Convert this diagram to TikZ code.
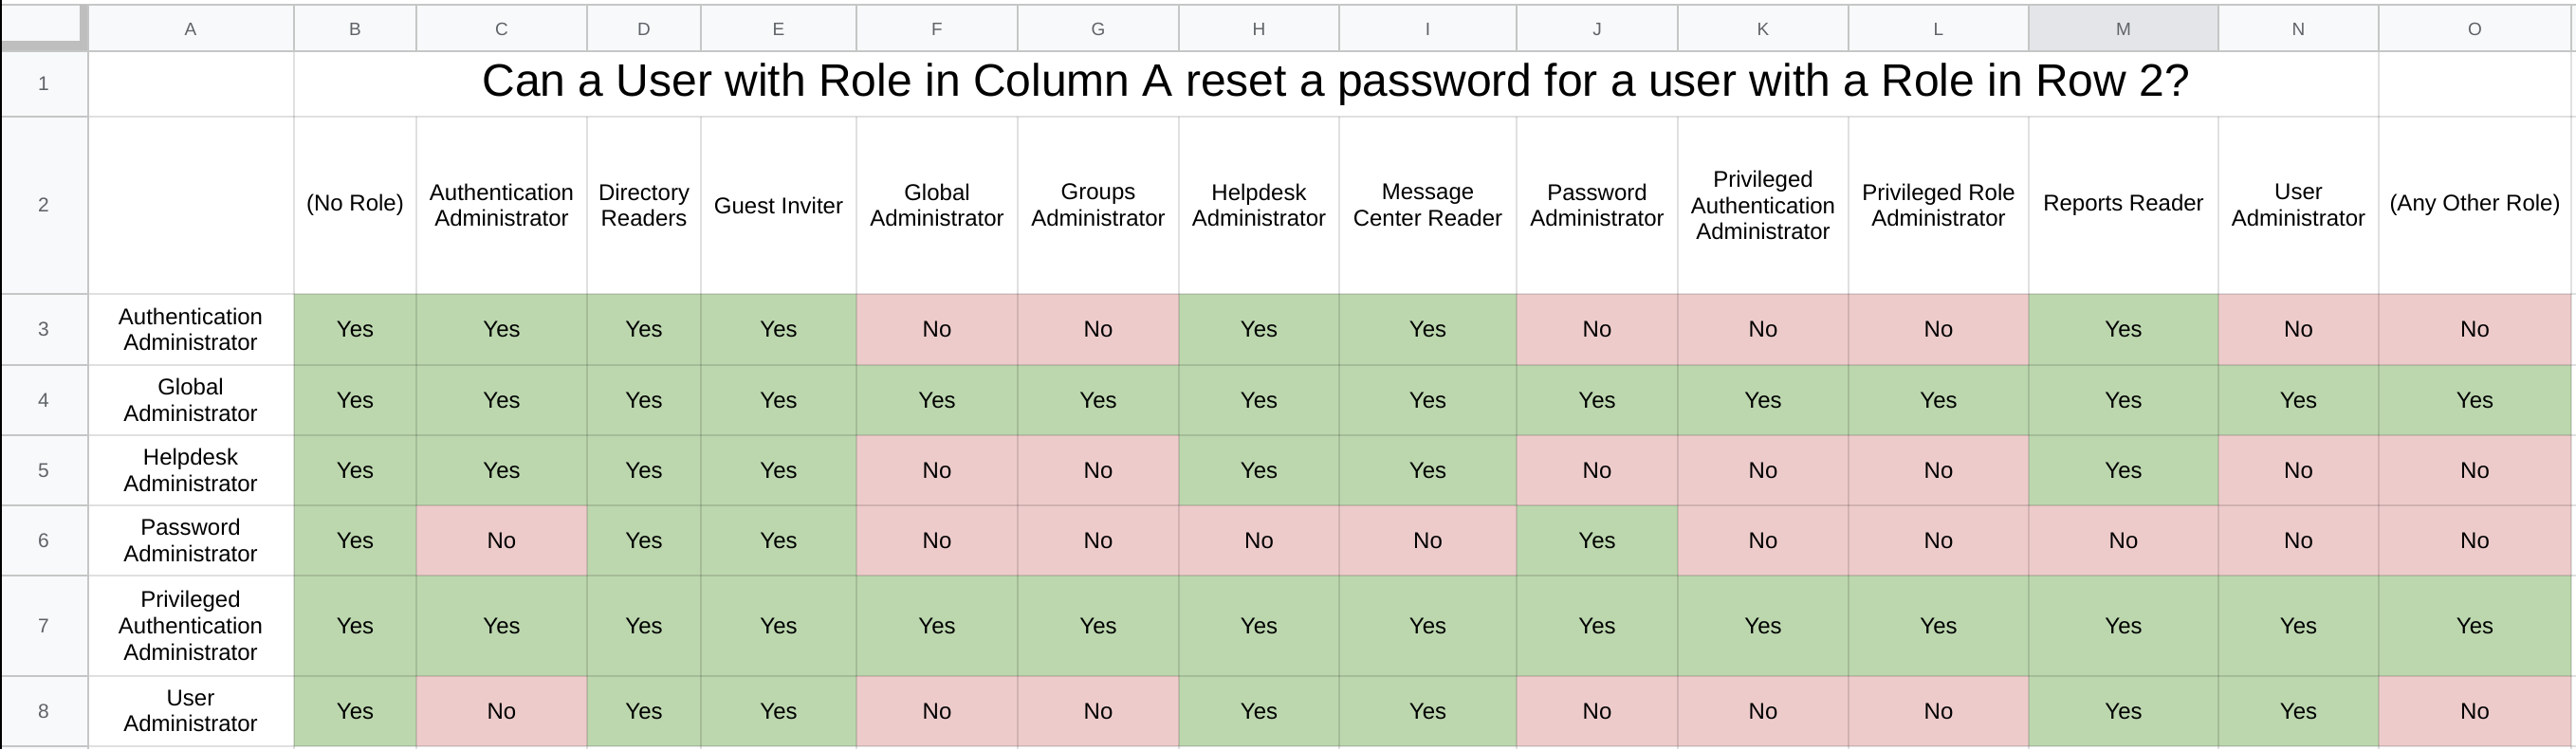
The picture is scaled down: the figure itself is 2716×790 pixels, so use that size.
\documentclass[tikz,border=0pt]{standalone}
\usepackage{fontspec}
\setmainfont{Liberation Sans}
\usetikzlibrary{positioning}

\definecolor{yescol}{RGB}{188,215,174}
\definecolor{nocol}{RGB}{238,203,203}
\definecolor{hdrbg}{RGB}{248,249,250}
\definecolor{selbg}{RGB}{227,229,232}
\definecolor{hdrline}{RGB}{196,199,197}
\definecolor{frzbar}{RGB}{190,190,190}
\definecolor{hdrtxt}{RGB}{95,99,104}

% column and row edges of the sheet
\def\colx{{92,310,439,619,739,903,1073,1243,1412,1599,1769,1949,2139,2339,2508,2711}}
\def\rowy{{5,54,123,310,385,459,533,607,713,787}}

\begin{document}
\begin{tikzpicture}[x=1pt, y=-1pt,
        cell/.style={inner sep=0pt, outer sep=0pt, align=center,
                        font=\fontsize{24}{27.6}\selectfont},
        Yes/.style={cell, fill=yescol},
        No/.style={cell, fill=nocol},
        hdr/.style={inner sep=0pt, text=hdrtxt,
                        font=\fontsize{19}{21}\selectfont},
        gridline/.style={draw=black, draw opacity=0.12, line width=2pt},
        hline/.style={draw=hdrline, line width=2pt}]
    \useasboundingbox (0,0) rectangle (2716,790);
    \fill[white] (0,0) rectangle (2716,790);
    % header strips
    \fill[hdrbg] (0,5) rectangle (2716,54);
    \fill[hdrbg] (0,5) rectangle (92,790);
    \fill[selbg] (2139,5) rectangle (2339,54);

    % answers
    \foreach \r/\vals in {
            3/{Yes,Yes,Yes,Yes,No,No,Yes,Yes,No,No,No,Yes,No,No},
            4/{Yes,Yes,Yes,Yes,Yes,Yes,Yes,Yes,Yes,Yes,Yes,Yes,Yes,Yes},
            5/{Yes,Yes,Yes,Yes,No,No,Yes,Yes,No,No,No,Yes,No,No},
            6/{Yes,No,Yes,Yes,No,No,No,No,Yes,No,No,No,No,No},
            7/{Yes,Yes,Yes,Yes,Yes,Yes,Yes,Yes,Yes,Yes,Yes,Yes,Yes,Yes},
            8/{Yes,No,Yes,Yes,No,No,Yes,Yes,No,No,No,Yes,Yes,No}}{
        \pgfmathsetmacro\ya{\rowy[\r]}
        \pgfmathsetmacro\yb{\rowy[\r+1]}
        \foreach \v [count=\i from 2] in \vals {
            \pgfmathsetmacro\xa{\colx[\i-1]}
            \pgfmathsetmacro\xb{\colx[\i]}
            \node[\v, minimum width=\xb-\xa, minimum height=\yb-\ya]
                (c\r-\i) at ({(\xa+\xb)/2},{(\ya+\yb)/2}) {\v};
        }
    }

    % grid
    \foreach \i in {1,14,15} {
        \pgfmathsetmacro\xa{\colx[\i]}
        \draw[gridline] (\xa,54) -- (\xa,790);
    }
    \foreach \i in {2,...,13} {
        \pgfmathsetmacro\xa{\colx[\i]}
        \draw[gridline] (\xa,123) -- (\xa,790);
    }
    \foreach \r in {2,...,9} {
        \pgfmathsetmacro\ya{\rowy[\r]}
        \draw[gridline] (92,\ya) -- (2716,\ya);
        \draw[hline] (0,\ya) -- (92,\ya);
    }
    \foreach \i in {1,...,15} {
        \pgfmathsetmacro\xa{\colx[\i]}
        \draw[hline] (\xa,5) -- (\xa,54);
    }
    \draw[hline] (0,5) -- (2716,5);
    \draw[hline] (0,54) -- (2716,54);
    \draw[hline] (92.5,5) -- (92.5,790);
    \fill[frzbar] (84,5) rectangle (92,53) (0,43) rectangle (92,53);
    \fill[black] (0,0) rectangle (1.5,790);

    % column letters and row numbers
    \foreach \l [count=\i] in {A,B,C,D,E,F,G,H,I,J,K,L,M,N,O} {
        \pgfmathsetmacro\xa{\colx[\i-1]}
        \pgfmathsetmacro\xb{\colx[\i]}
        \node[hdr] (col\l) at ({(\xa+\xb)/2},31) {\l};
    }
    \foreach \r in {1,...,8} {
        \pgfmathsetmacro\ya{\rowy[\r]}
        \pgfmathsetmacro\yb{\rowy[\r+1]}
        \node[hdr, font=\fontsize{21}{23}\selectfont] (row\r) at (46,{(\ya+\yb)/2}) {\r};
    }

    % title
    \node[inner sep=0pt, font=\fontsize{48}{55}\selectfont] (title) at (1409,89)
        {Can a User with Role in Column A reset a password for a user with a Role in Row 2?};

    % roles in row 2
    \foreach \i/\t in {2/(No Role), 3/Authentication\\Administrator,
            4/Directory\\Readers, 5/Guest Inviter, 6/Global\\Administrator,
            7/Groups\\Administrator, 8/Helpdesk\\Administrator,
            9/Message\\Center Reader, 10/Password\\Administrator,
            11/Privileged\\Authentication\\Administrator,
            12/Privileged Role\\Administrator, 13/Reports Reader,
            14/User\\Administrator, 15/(Any Other Role)} {
        \pgfmathsetmacro\xa{\colx[\i-1]}
        \pgfmathsetmacro\xb{\colx[\i]}
        \node[cell] (role\i) at ({(\xa+\xb)/2},216.5) {\t};
    }

    % roles in column A
    \foreach \r/\t in {3/Authentication\\Administrator, 4/Global\\Administrator,
            5/Helpdesk\\Administrator, 6/Password\\Administrator,
            7/Privileged\\Authentication\\Administrator, 8/User\\Administrator} {
        \pgfmathsetmacro\ya{\rowy[\r]}
        \pgfmathsetmacro\yb{\rowy[\r+1]}
        \node[cell] (user\r) at (201,{(\ya+\yb)/2}) {\t};
    }
\end{tikzpicture}
\end{document}
